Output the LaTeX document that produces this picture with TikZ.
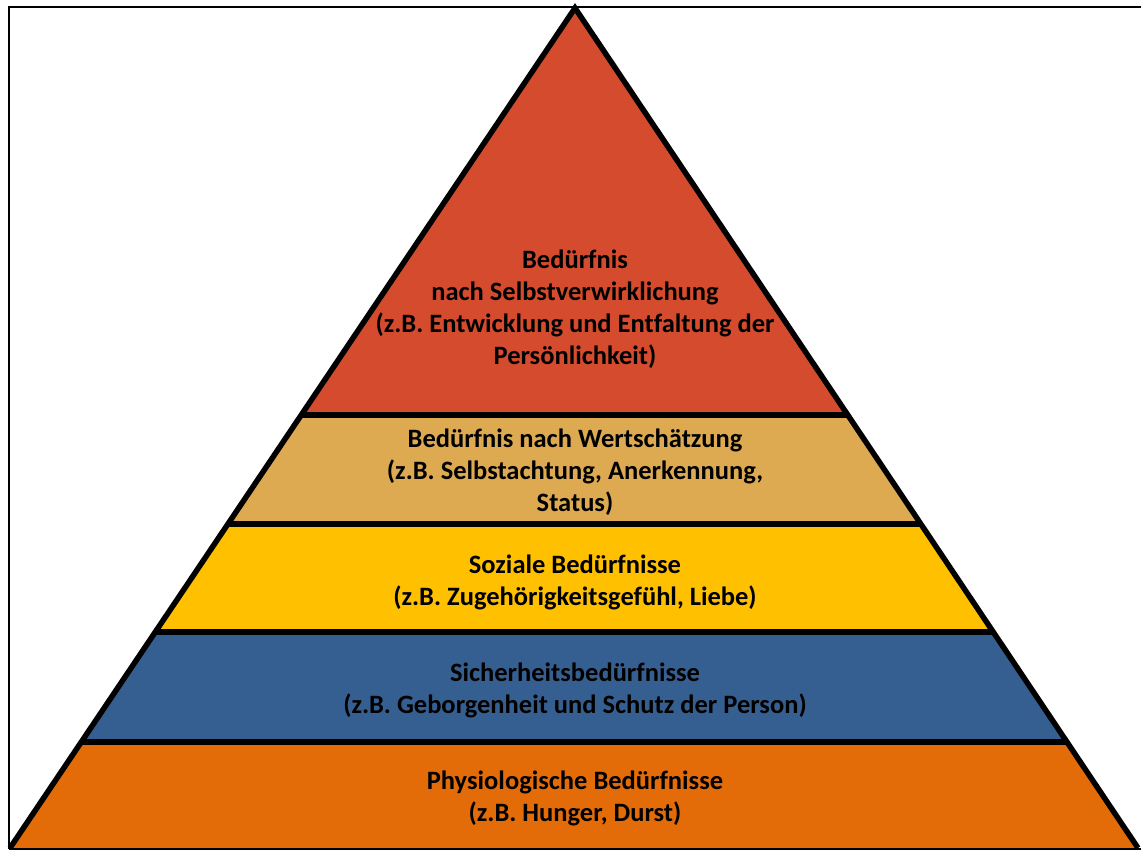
\documentclass[tikz,border=0pt]{standalone}
\usepackage{fontspec}
\setmainfont[Ligatures=NoCommon]{Carlito}
\usetikzlibrary{calc}
\definecolor{cRed}{HTML}{D44B2E}
\definecolor{cTan}{HTML}{DDA951}
\definecolor{cYel}{HTML}{FFC000}
\definecolor{cBlu}{HTML}{365F91}
\definecolor{cOra}{HTML}{E36C09}
\tikzset{
  lbl/.style={align=center, font=\fontsize{26.5}{32}\selectfont\bfseries, text=black, inner sep=0pt},
  frameline/.style={line width=2pt, black},
  edge/.style={line width=5.5pt, black, line join=miter},
}
\begin{document}
\begin{tikzpicture}[x=1pt,y=-1pt]
\useasboundingbox (0,0) rectangle (1141,850);
\coordinate (A) at (575,8);
\coordinate (BL) at (10,848);
\coordinate (BR) at (1138,848);
\foreach \n/\t in {1/0.4845,2/0.6143,3/0.7429,4/0.8738}{
  \coordinate (L\n) at ($(A)!\t!(BL)$);
  \coordinate (R\n) at ($(A)!\t!(BR)$);
}
\fill[cRed] (A) -- (L1) -- (R1) -- cycle;
\fill[cTan] (L1) -- (L2) -- (R2) -- (R1) -- cycle;
\fill[cYel] (L2) -- (L3) -- (R3) -- (R2) -- cycle;
\fill[cBlu] (L3) -- (L4) -- (R4) -- (R3) -- cycle;
\fill[cOra] (L4) -- (BL) -- (BR) -- (R4) -- cycle;
\foreach \n in {1,2,3,4}{ \draw[edge] (L\n) -- (R\n); }
\draw[edge] (BL) -- (A) -- (BR);
% frame
\draw[frameline] (9,849) -- (9,7) -- (1141,7);
\draw[frameline] (9,849) -- (1141,849);
% labels
\node[lbl] (t1) at (575,309) {Bedürfnis\\nach Selbstverwirklichung\\(z.B. Entwicklung und Entfaltung der\\Persönlichkeit)};
\node[lbl] (t2) at (575,472) {Bedürfnis nach Wertschätzung\\(z.B. Selbstachtung, Anerkennung,\\Status)};
\node[lbl] (t3) at (575,582) {Soziale Bedürfnisse\\(z.B. Zugehörigkeitsgefühl, Liebe)};
\node[lbl] (t4) at (575,690) {Sicherheitsbedürfnisse\\(z.B. Geborgenheit und Schutz der Person)};
\node[lbl] (t5) at (575,798) {Physiologische Bedürfnisse\\(z.B. Hunger, Durst)};
\end{tikzpicture}
\end{document}
